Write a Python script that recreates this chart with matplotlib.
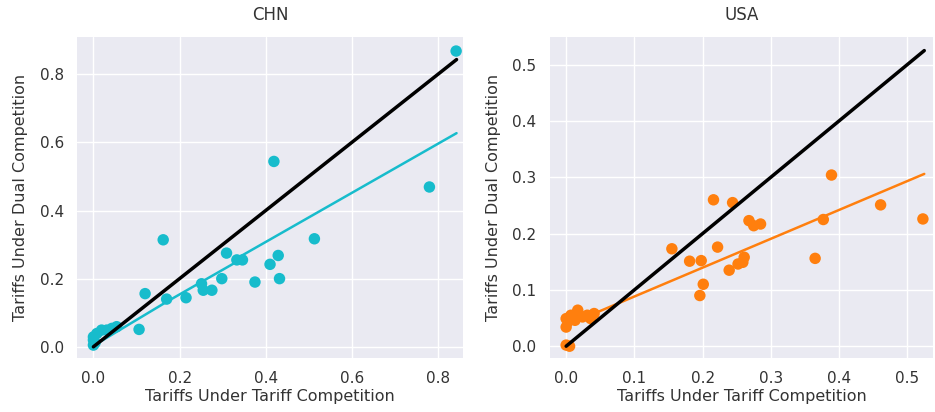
import matplotlib
matplotlib.use("Agg")
import matplotlib.pyplot as plt
import seaborn as sns

# ---- data ----
chn_x = [0.842, 0.419, 0.780, 0.162, 0.513, 0.309, 0.333, 0.346, 0.429, 0.410,
         0.432, 0.298, 0.375, 0.251, 0.255, 0.275, 0.215, 0.170, 0.120, 0.106,
         0.054, 0.000, 0.000, 0.008, 0.019, 0.031, 0.043, 0.000, 0.004]
chn_y = [0.868, 0.544, 0.469, 0.314, 0.317, 0.275, 0.255, 0.255, 0.268, 0.242,
         0.200, 0.200, 0.190, 0.185, 0.166, 0.166, 0.144, 0.140, 0.156, 0.051,
         0.059, 0.005, 0.029, 0.039, 0.049, 0.049, 0.054, 0.020, 0.012]
chn_fit_x = [0.0, 0.170, 0.325, 0.345, 0.843]
chn_fit_y = [0.003, 0.132, 0.244, 0.268, 0.627]

usa_x = [0.389, 0.216, 0.244, 0.461, 0.523, 0.377, 0.268, 0.275, 0.285, 0.155,
         0.222, 0.181, 0.198, 0.261, 0.259, 0.252, 0.239, 0.365, 0.201, 0.196,
         0.000, 0.005, 0.000, 0.000, 0.007, 0.017, 0.024, 0.031, 0.041, 0.036,
         0.003, 0.013]
usa_y = [0.304, 0.260, 0.255, 0.251, 0.226, 0.225, 0.223, 0.214, 0.217, 0.173,
         0.176, 0.151, 0.152, 0.158, 0.149, 0.146, 0.135, 0.156, 0.110, 0.090,
         0.002, 0.000, 0.049, 0.034, 0.055, 0.064, 0.052, 0.055, 0.058, 0.049,
         0.044, 0.046]
usa_fit_x = [0.0, 0.525]
usa_fit_y = [0.037, 0.306]

chn_diag = [0.0, 0.843]
usa_diag = [0.0, 0.525]

chn_xticks = [0.0, 0.2, 0.4, 0.6, 0.8]
chn_yticks = [0.0, 0.2, 0.4, 0.6, 0.8]
usa_xticks = [0.0, 0.1, 0.2, 0.3, 0.4, 0.5]
usa_yticks = [0.0, 0.1, 0.2, 0.3, 0.4, 0.5]

sns.set_style("darkgrid")
plt.rcParams['font.family'] = ['DejaVu Sans']

fig = plt.figure(figsize=(9.35, 4.12), dpi=100)
ax1 = fig.add_axes([0.0824, 0.131, 0.4128, 0.779])
ax2 = fig.add_axes([0.588, 0.131, 0.410, 0.779])

panels = [
    (ax1, "CHN", chn_x, chn_y, chn_fit_x, chn_fit_y, chn_diag, "#17bccc",
     (-0.038, 0.858), (-0.033, 0.909), chn_xticks, chn_yticks),
    (ax2, "USA", usa_x, usa_y, usa_fit_x, usa_fit_y, usa_diag, "#ff7f0e",
     (-0.024, 0.538), (-0.021, 0.549), usa_xticks, usa_yticks),
]

for ax, title, x, y, fx, fy, diag, col, xl, yl, xt, yt in panels:
    ax.set_facecolor("#EAEAF2")
    ax.scatter(x, y, s=68, color=col, edgecolor="none", zorder=3)
    ax.plot(fx, fy, color=col, lw=1.8, zorder=3)
    ax.plot(diag, diag, color="black", lw=2.5, zorder=4)
    ax.set_xlim(*xl)
    ax.set_ylim(*yl)
    ax.set_xticks(xt)
    ax.set_yticks(yt)
    ax.set_xticklabels([f"{v:.1f}" for v in xt])
    ax.set_yticklabels([f"{v:.1f}" for v in yt])
    ax.tick_params(labelsize=11, colors="#333333", pad=6)
    ax.set_xlabel("Tariffs Under Tariff Competition", fontsize=11.5, color="#333333", labelpad=2)
    ax.set_ylabel("Tariffs Under Dual Competition", fontsize=11.5, color="#333333", labelpad=8)
    ax.set_title(title, fontsize=12, color="#333333", pad=12)
    ax.grid(True, color="white", lw=1.0)
    for s in ax.spines.values():
        s.set_visible(False)

fig.savefig("out.png", dpi=100, facecolor="white")
